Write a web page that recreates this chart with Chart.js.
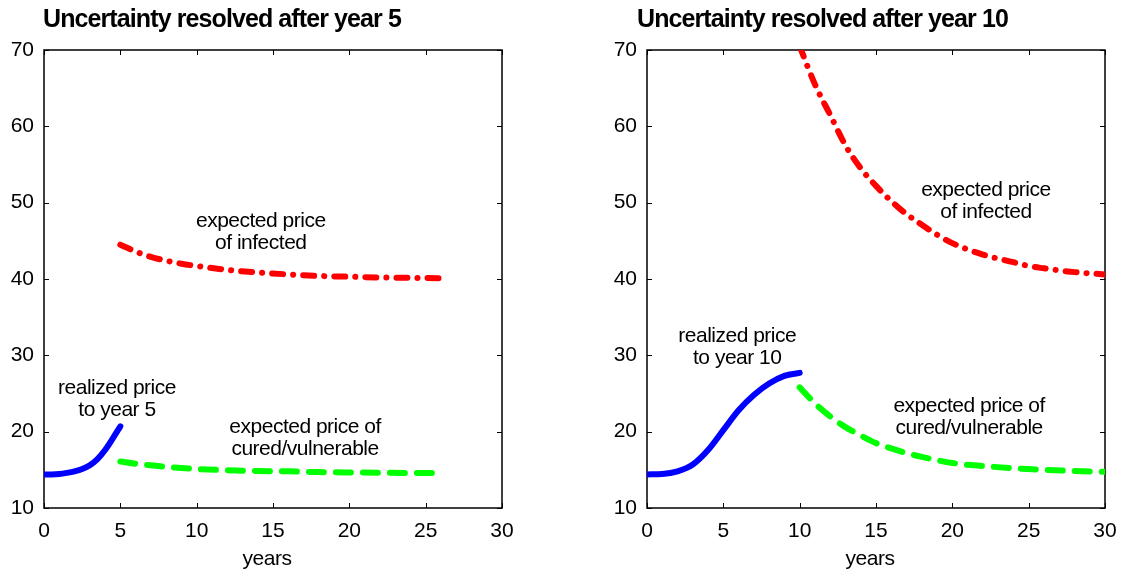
<!DOCTYPE html>
<html><head><meta charset="utf-8">
<script src="https://cdn.jsdelivr.net/npm/chart.js@4"></script>
<style>
html,body{margin:0;padding:0;background:#fff;}
#wrap{position:relative;width:1121px;height:575px;overflow:hidden;}
canvas{position:absolute;top:0;}
#left{left:0;} #right{left:560px;}
</style></head><body>
<div id="wrap"><canvas id="left" width="560" height="575"></canvas><canvas id="right" width="561" height="575"></canvas></div>
<script>
// ---- tick labels ----
const xTicks = [0, 5, 10, 15, 20, 25, 30];
const yTicks = [10, 20, 30, 40, 50, 60, 70];
const titles = ['Uncertainty resolved after year 5', 'Uncertainty resolved after year 10'];
const xAxisTitle = 'years';

// ---- left panel: uncertainty resolved after year 5 ----
const L_realizedX = [0, 0.5, 1, 1.5, 2, 2.5, 3, 3.5, 4, 4.5, 5];
const L_realizedY = [14.4, 14.4, 14.45, 14.6, 14.8, 15.1, 15.6, 16.4, 17.6, 19.1, 20.7];
const L_infectedX = [5, 6, 7, 8, 9, 10, 12, 14, 16, 18, 20, 22, 24, 26];
const L_infectedY = [44.5, 43.6, 42.9, 42.4, 42.0, 41.7, 41.2, 40.85, 40.6, 40.4, 40.3, 40.2, 40.15, 40.1];
const L_curedX = [5, 6, 7, 8, 10, 12, 14, 16, 18, 20, 22, 24, 26];
const L_curedY = [16.1, 15.8, 15.6, 15.4, 15.1, 14.95, 14.85, 14.8, 14.7, 14.65, 14.62, 14.6, 14.6];

// ---- right panel: uncertainty resolved after year 10 ----
const R_realizedX = [0, 1, 2, 3, 4, 5, 6, 7, 8, 9, 10];
const R_realizedY = [14.4, 14.45, 14.8, 15.7, 17.6, 20.2, 22.8, 24.8, 26.3, 27.3, 27.7];
const R_infectedX = [10, 11, 12, 13, 14, 15, 16, 17, 18, 19, 20, 22, 24, 25, 26, 28, 30];
const R_infectedY = [70.5, 65.5, 61.5, 57.5, 54.5, 52.2, 50.2, 48.5, 47.1, 45.8, 44.7, 43.2, 42.2, 41.7, 41.4, 40.9, 40.6];
const R_curedX = [10, 11, 12, 13, 14, 15, 16, 17, 18, 20, 22, 25, 28, 30];
const R_curedY = [25.8, 23.7, 22.0, 20.6, 19.5, 18.5, 17.8, 17.2, 16.7, 15.9, 15.5, 15.1, 14.85, 14.75];

// ---- annotation texts ----
const noteRealized5 = ['realized price', 'to year 5'];
const noteRealized10 = ['realized price', 'to year 10'];
const noteInfected = ['expected price', 'of infected'];
const noteCured = ['expected price of', 'cured/vulnerable'];

const FONT = '"Liberation Sans", Arial, sans-serif';
const pts = (xs, ys) => xs.map((x, i) => ({ x: x, y: ys[i] }));

const decor = {
  id: 'decor',
  beforeDatasetsDraw(chart) {
    const { ctx, chartArea: a, scales: { x, y } } = chart;
    ctx.save();
    ctx.strokeStyle = '#000';
    ctx.lineWidth = 1.5;
    ctx.strokeRect(a.left, a.top, a.right - a.left, a.bottom - a.top);
    ctx.lineWidth = 1;
    ctx.beginPath();
    xTicks.forEach(v => {
      const p = Math.round(x.getPixelForValue(v)) + 0.5;
      ctx.moveTo(p, a.bottom); ctx.lineTo(p, a.bottom - 5);
      ctx.moveTo(p, a.top); ctx.lineTo(p, a.top + 5);
    });
    yTicks.forEach(v => {
      const p = Math.round(y.getPixelForValue(v)) + 0.5;
      ctx.moveTo(a.left, p); ctx.lineTo(a.left + 5, p);
      ctx.moveTo(a.right, p); ctx.lineTo(a.right - 5, p);
    });
    ctx.stroke();
    ctx.restore();
  },
  afterDraw(chart, args, opts) {
    const { ctx, chartArea: a, scales: { x, y } } = chart;
    ctx.save();
    ctx.fillStyle = '#000';
    // title
    ctx.font = 'bold 25px ' + FONT;
    ctx.letterSpacing = '-0.9px';
    ctx.textAlign = 'left';
    ctx.textBaseline = 'alphabetic';
    ctx.fillText(opts.title, a.left + opts.titleDx, 27);
    // axis title
    ctx.font = '21px ' + FONT;
    ctx.letterSpacing = '-0.5px';
    ctx.textAlign = 'center';
    ctx.fillText(xAxisTitle, (a.left + a.right) / 2 - 6, 565);
    // notes
    opts.notes.forEach(n => {
      const px = x.getPixelForValue(n.x);
      const py = y.getPixelForValue(n.y);
      n.lines.forEach((t, i) => ctx.fillText(t, px, py + i * 22));
    });
    ctx.restore();
  }
};

function makeChart(id, o) {
  const ds = (data, color, dash, cap) => ({
    data: data, borderColor: color, borderWidth: 6, borderDash: dash,
    borderCapStyle: cap, borderJoinStyle: 'round', pointRadius: 0,
    cubicInterpolationMode: 'monotone', fill: false, clip: 0
  });
  return new Chart(document.getElementById(id), {
    type: 'line',
    data: {
      datasets: [
        ds(pts(o.rx, o.ry), '#0000ff', [], 'round'),
        ds(pts(o.ix, o.iy), '#ff0000', [11, 10, 0.1, 10], 'round'),
        ds(pts(o.cx, o.cy), '#00ff00', [15, 12], 'round')
      ]
    },
    options: {
      responsive: false,
      devicePixelRatio: 1,
      animation: false,
      events: [],
      layout: { padding: { left: o.padL, right: o.padR, top: 50, bottom: 0 } },
      plugins: {
        legend: { display: false },
        tooltip: { enabled: false },
        decor: { title: o.title, titleDx: o.titleDx, notes: o.notes }
      },
      scales: {
        x: {
          type: 'linear', min: 0, max: 30,
          afterBuildTicks: s => { s.ticks = xTicks.map(v => ({ value: v })); },
          afterFit: s => { s.height = 67; s.paddingLeft = 0; s.paddingRight = 0; },
          grid: { display: false, drawTicks: false },
          border: { display: false },
          ticks: { color: '#000', font: { family: FONT, size: 21 }, padding: 11, maxRotation: 0 }
        },
        y: {
          type: 'linear', min: 10, max: 70,
          afterBuildTicks: s => { s.ticks = yTicks.map(v => ({ value: v })); },
          afterFit: s => { s.width = 44; s.paddingTop = 0; s.paddingBottom = 0; },
          grid: { display: false, drawTicks: false },
          border: { display: false },
          ticks: { color: '#000', font: { family: FONT, size: 21 }, padding: 10 }
        }
      }
    },
    plugins: [decor]
  });
}

makeChart('left', {
  rx: L_realizedX, ry: L_realizedY, ix: L_infectedX, iy: L_infectedY, cx: L_curedX, cy: L_curedY,
  padL: 0, padR: 58, title: titles[0], titleDx: -1,
  notes: [
    { x: 4.78, y: 24.9, lines: noteRealized5 },
    { x: 14.2, y: 46.8, lines: noteInfected },
    { x: 17.1, y: 19.8, lines: noteCured }
  ]
});
makeChart('right', {
  rx: R_realizedX, ry: R_realizedY, ix: R_infectedX, iy: R_infectedY, cx: R_curedX, cy: R_curedY,
  padL: 43, padR: 16, title: titles[1], titleDx: -10,
  notes: [
    { x: 5.91, y: 31.8, lines: noteRealized10 },
    { x: 22.2, y: 50.85, lines: noteInfected },
    { x: 21.1, y: 22.6, lines: noteCured }
  ]
});
</script>
</body></html>
